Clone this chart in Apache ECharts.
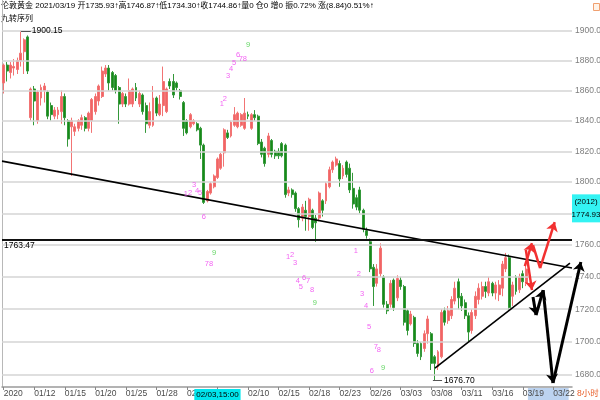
<!DOCTYPE html>
<html><head><meta charset="utf-8">
<script src="https://cdn.jsdelivr.net/npm/echarts@6/dist/echarts.min.js"></script>
<style>html,body{margin:0;padding:0;background:#fff}#c{width:600px;height:400px}</style>
</head><body><div id="c"></div>
<script>
// ---- candle data (8-hour bars, London gold) ----
const opens = [1865,1877,1872,1875,1874,1880,1886,1896,1842,1861,1840,1855,1860,1859,
1850,1843,1844,1846,1856,1840,1836,1833,1835,1837,1842,1835,1840,1846,1853,1856,1871,1875,1872,1870,1862,1851,1856,1851,1851,1862,1851,1857,1850,
1837,1837,1855,1844,1850,1846,1866,1866,1865,1860,1852,1840,1836,1838,1838,1835,1824,1788,1793,1797,1803,1809,1819,1832,1830,1837,1836,1837,1835,1844,1835,1844,1843,1826,1822,1818,1827,1820,1820,1825,1824,1793,1795,1793,1783,1777,
1782,1778,1782,1777,1777,1788,1788,1797,1808,1811,1812,1804,1813,1809,1796,1790,1795,1782,1769,1762,1746,1736,1742,1740,1723,1723,1738,1727,1738,1734,1719,1711,1715,1699,1699,1696,1705,1705,1691,1685,1691,
1719,1713,1716,1725,1737,1728,1724,1716,1707,1716,1726,1728,1734,1730,1736,1730,1729,1733,1745,1752,1728,1740,1732,1742,1735.93];
const closes = [1877,1873,1877,1876,1880,1885,1894,1873,1861,1853,1859,1862,1863,1843,
1844,1847,1847,1856,1842,1828,1840,1836,1840,1842,1835,1845,1854,1856,1863,1873,1875,1865,1862,1860,1851,1858,1851,1860,1861,1855,1858,1846,1838,
1846,1855,1845,1851,1866,1861,1863,1857,1862,1856,1835,1832,1844,1840,1834,1824,1787,1794,1799,1804,1815,1818,1834,1829,1839,1844,1845,1844,1845,1843,1844,1842,1825,1818,1812,1830,1818,1817,1817,1817,1792,1795,1792,1783,1776,1784,
1778,1789,1771,1774,1793,1782,1799,1808,1813,1815,1802,1809,1805,1795,1786,1784,1782,1770,1766,1745,1734,1745,1758,1723,1719,1736,1721,1739,1734,1712,1707,1717,1699,1693,1691,1705,1714,1687,1687,1694,1718,
1712,1719,1726,1733,1727,1722,1716,1706,1718,1728,1733,1734,1731,1737,1730,1735,1735,1748,1752,1721,1735,1731,1740,1737,1744.86];
const lows = [1858,1866,1868,1870,1871,1876,1871,1871,1840,1837,1838,1850,1852,1841,
1840,1841,1841,1838,1837,1823,1804,1830,1833,1834,1833,1833,1832,1844,1850,1855,1869,1860,1860,1858,1838,1849,1849,1850,1849,1853,1849,1844,1832,
1835,1836,1843,1843,1843,1845,1861,1855,1860,1854,1830,1831,1835,1837,1833,1815,1786,1787,1792,1796,1802,1808,1810,1828,1829,1836,1835,1836,1834,1841,1834,1840,1824,1816,1810,1816,1816,1815,1815,1816,1790,1791,1790,1781,1771,1775,
1769,1769,1770,1762,1775,1778,1786,1796,1806,1810,1797,1802,1803,1793,1783,1782,1780,1768,1764,1743,1722,1734,1740,1721,1717,1721,1719,1725,1732,1710,1704,1710,1697,1691,1689,1694,1699,1683,1676.7,1683,1690,
1710,1711,1714,1723,1720,1719,1714,1700,1705,1714,1723,1726,1727,1728,1728,1726,1725,1728,1743,1719,1722,1729,1730,1733,1734.30];
const highs = [1878,1879,1879,1881,1882,1900.15,1895,1897,1862,1863,1860,1864,1865,1860,
1852,1849,1849,1860,1858,1841,1842,1838,1841,1844,1843,1846,1855,1858,1864,1876,1877,1877,1873,1871,1863,1859,1858,1868,1862,1865,1860,1858,1852,
1852,1863,1856,1857,1876,1862,1868,1871,1866,1861,1853,1841,1845,1841,1839,1836,1825,1795,1800,1805,1816,1819,1835,1834,1840,1849,1846,1845,1855,1846,1845,1847,1844,1828,1823,1832,1828,1821,1822,1826,1825,1797,1796,1794,1784,1786,
1788,1790,1783,1779,1794,1789,1800,1810,1814,1816.5,1814,1811,1814,1812,1806,1792,1797,1783,1771,1764,1748,1748,1761,1741,1725,1738,1739,1741,1740,1735,1720,1719,1716,1701,1700,1707,1716,1706,1692,1695,1720,
1721,1722,1728,1737,1739,1730,1726,1718,1720,1731,1736,1737,1737,1740,1737,1737,1738,1750,1755,1754,1737,1741,1742,1744,1746.87];

const futureSlots = 13;
// x-axis tick labels (category index -> text)
const tickIndex = [0,9,18,27,36,45,54,63,72,81,90,99,108,117,126,135,144,153,162];
const tickText = ['2020','01/12','01/15','01/20','01/25','01/28','02/02','02/03,15:00','02/10','02/15','02/18','02/23','02/26','03/03','03/08','03/11','03/16','03/19','03/22'];
const crossIdx = 63;
const crossPrice = 1774.93;
// y-axis grid levels
const gridLevels = [1680,1700,1720,1740,1760,1780,1800,1820,1840,1860,1880,1900];
const lastPrice = 1744.86;
const resistance = 1763.47;
// trend lines [slot, price]
const descLine = [[0,1813.6],[168,1745.5]];
const ascLine = [[127.6,1684.2],[167.4,1748.6]];
// projection arrows
const redArrows = [[[154.1,1746.8],[156.2,1761.2]],[[158.6,1745.5],[162.9,1774.5]],[[154.4,1756.9],[156.2,1731.8]]];
const redPlain = [[[156.5,1759.9],[158.6,1745.5]]];
const blackArrows = [[[156.5,1727.5],[157.4,1716.4]],[[157.4,1716.4],[159.5,1731.8]],[[159.5,1731.8],[162.4,1675.2]],[[162.4,1675.2],[170.6,1749.3]]];
// TD sequential labels
const tdText = ['1','2','3','4','5','6', '1','2','3','4','5','6','7','8','9', '7','8','9', '1','2','3','4','5','6','7','8','9', '1','2','3','4','5','6','7','8','9'];
const tdX = [54.2,55.4,56.6,57.5,58.4,59.5, 64.8,65.7,66.6,67.5,68.4,69.6,70.4,71.6,72.5, 60.4,61.6,62.5, 84.3,85.5,86.4,87.2,88.1,89.0,90.2,91.4,92.2, 104.3,105.2,106.1,107.3,108.2,109.0,110.2,111.1,112.3];
const tdY = [1792.4,1793.0,1798.2,1794.3,1793.0,1777.7, 1851.0,1854.3,1869.7,1874.4,1878.4,1883.8,1881.1,1881.1,1890.5, 1748.0,1748.0,1754.9, 1752.4,1753.7,1748.6,1737.4,1733.7,1739.3,1737.4,1731.8,1723.8, 1756.2,1741.8,1729.4,1721.9,1709.1,1682.4,1696.9,1695.1,1684.2];
// header
const headerParts = [['k','伦敦黄金 2021/03/19 '],['g','开1735.93↑'],['r','高1746.87↑'],['g','低1734.30↑'],['r','收1744.86↑'],['k','量0 仓0 增0 振0.72% '],['r','涨(8.84)0.51%↑']];

const N = opens.length;
const slots = N + futureSlots;
const FONT = '"Liberation Sans","Noto Sans CJK SC",sans-serif';

const cats = [];
for (let i = 0; i < slots; i++) {
  if (i === crossIdx) cats.push({value:'c'+i, textStyle:{align:'center', backgroundColor:'#00e6ee', color:'#000', padding:[2,2,1,2], fontSize:8}});
  else cats.push('c'+i);
}
const candleData = opens.map((o,i)=>[o, closes[i], lows[i], highs[i]]);

const chart = echarts.init(document.getElementById('c'), null, {renderer:'canvas'});
const seg = (c, color, width, extra) => Object.assign({coords:c, lineStyle:{color:color, width:width, opacity:1}}, extra||{});

chart.setOption({
  animation:false,
  backgroundColor:'#fff',
  textStyle:{fontFamily:FONT},
  grid:{left:2, right:28, top:0, bottom:13, containLabel:false},
  xAxis:[{
    type:'category', data:cats, boundaryGap:true,
    axisLine:{show:true, lineStyle:{color:'#9a9a9a', width:1.5}},
    axisTick:{show:true, alignWithLabel:true, length:3, interval:(i)=>tickIndex.indexOf(i)>=0, lineStyle:{color:'#888'}},
    axisLabel:{interval:(i)=>tickIndex.indexOf(i)>=0, formatter:(v,i)=>{const k=tickIndex.indexOf(i);return k>=0?tickText[k]:'';}, align:'left', color:'#4a4a4a', fontSize:8.5, margin:2, fontFamily:FONT},
    splitLine:{show:false}
  },{
    type:'value', min:0, max:slots, show:false
  }],
  yAxis:[{
    type:'log', logBase:10, min:1672.8, max:1921.2, position:'right',
    axisLine:{show:true, lineStyle:{color:'#a8a8a8'}}, axisTick:{show:false}, axisLabel:{show:false}, splitLine:{show:false}
  },{
    type:'value', min:0, max:1, position:'left',
    axisLine:{show:true, lineStyle:{color:'#b8b8b8'}}, axisTick:{show:false}, axisLabel:{show:false}, splitLine:{show:false}
  }],
  series:[
    {type:'line', xAxisIndex:1, yAxisIndex:0, data:[], silent:true, z:1,
     markLine:{silent:true, symbol:'none', animation:false,
       lineStyle:{color:'#d4d4d4', width:1.5, type:'solid'},
       label:{position:'end', distance:3, formatter:(p)=>p.value.toFixed(2), color:'#7d7d7d', fontSize:8.5, fontFamily:FONT},
       data:gridLevels.map(v=>({yAxis:v}))}},
    {type:'candlestick', xAxisIndex:0, yAxisIndex:0, data:candleData, barWidth:2.4, z:3,
     itemStyle:{color:'#f26464', color0:'#178a17', borderColor:'#f27474', borderColor0:'#34983a', borderWidth:1}},
    {type:'lines', coordinateSystem:'cartesian2d', xAxisIndex:1, yAxisIndex:0, clip:false, z:5, symbol:'none', silent:true,
     lineStyle:{opacity:1},
     data:[
       seg(descLine,'#000',1.6),
       seg(ascLine,'#000',1.6),
       seg([[0,resistance],[slots,resistance]],'#111',2,{label:{show:true, position:'insideStartBottom', distance:2, formatter:resistance.toFixed(2), color:'#000', fontSize:8.5, fontFamily:FONT}}),
       seg([[5.6,highs[5]],[8.5,highs[5]]],'#555',1,{label:{show:true, position:'end', distance:1, formatter:highs[5].toFixed(2), color:'#000', fontSize:8.5, fontFamily:FONT}}),
       seg([[127.0,lows[127]],[129.7,lows[127]]],'#555',1,{label:{show:true, position:'end', distance:2, formatter:lows[127].toFixed(2), color:'#000', fontSize:8.5, fontFamily:FONT}})
     ].concat(redPlain.map(c=>seg(c,'#f23030',2.5)))},
    {type:'lines', coordinateSystem:'cartesian2d', xAxisIndex:1, yAxisIndex:0, clip:false, z:6, symbol:['none','arrow'], symbolSize:9, silent:true,
     lineStyle:{opacity:1},
     data: redArrows.map(c=>seg(c,'#f23030',2.5)).concat(blackArrows.map(c=>seg(c,'#000',3)))},
    {type:'scatter', xAxisIndex:1, yAxisIndex:0, symbolSize:1, silent:true, z:7,
     itemStyle:{color:'rgba(0,0,0,0)'},
     data: tdX.map((x,i)=>({value:[x, tdY[i]], label:{color: tdText[i]==='9' ? '#3ccc3c' : '#f03cf0'}})),
     label:{show:true, position:'inside', formatter:(p)=>tdText[p.dataIndex], fontSize:7.5, fontFamily:FONT}},
    {type:'line', xAxisIndex:1, yAxisIndex:0, data:[], silent:true, z:8,
     markLine:{silent:true, symbol:'none', animation:false,
       lineStyle:{opacity:0},
       label:{position:'end', distance:2, formatter:lastPrice.toFixed(2), color:'#f03030', fontSize:8.5, backgroundColor:'#fff', padding:[1,2,1,1], fontFamily:FONT},
       data:[{yAxis:lastPrice}]}}
  ]
});

// overlay decorations positioned from the axes
const py = chart.convertToPixel({yAxisIndex:0}, crossPrice);
const bandX0 = chart.convertToPixel({xAxisIndex:1}, N);
const bandX1 = chart.convertToPixel({xAxisIndex:1}, slots-1);
const rich = {k:{color:'#000'}, g:{color:'#1c9a1c'}, r:{color:'#e83030'}};
Object.keys(rich).forEach(k=>{rich[k].fontSize=8; rich[k].fontFamily=FONT;});
chart.setOption({graphic:[
  {type:'rect', z:-1, shape:{x:bandX0, y:388, width:bandX1-bandX0, height:12}, style:{fill:'#bcd3f0'}},
  {type:'text', left:1, top:2, style:{text:headerParts.map(p=>'{'+p[0]+'|'+p[1]+'}').join(''), rich:rich, font:'8px '+FONT}},
  {type:'text', left:1, top:15, style:{text:'九转序列', fill:'#000', font:'8px '+FONT}},
  {type:'rect', shape:{x:593.5, y:3.5, width:6, height:7}, style:{fill:'#fff3e8', stroke:'#f0a070', lineWidth:1}},
  {type:'rect', z:20, shape:{x:572, y:py-27, width:28, height:28}, style:{fill:'#33f3f3'}},
  {type:'text', z:21, x:586, y:py-20, style:{text:'(2012)', fill:'#000', font:'8px '+FONT, align:'center', verticalAlign:'middle'}},
  {type:'text', z:21, x:586, y:py-7, style:{text:crossPrice.toFixed(2), fill:'#000', font:'8px '+FONT, align:'center', verticalAlign:'middle'}},
  {type:'text', z:21, x:577, y:389, style:{text:'8小时', fill:'#e8602c', font:'8.5px '+FONT}}
]});
</script>
</body></html>
